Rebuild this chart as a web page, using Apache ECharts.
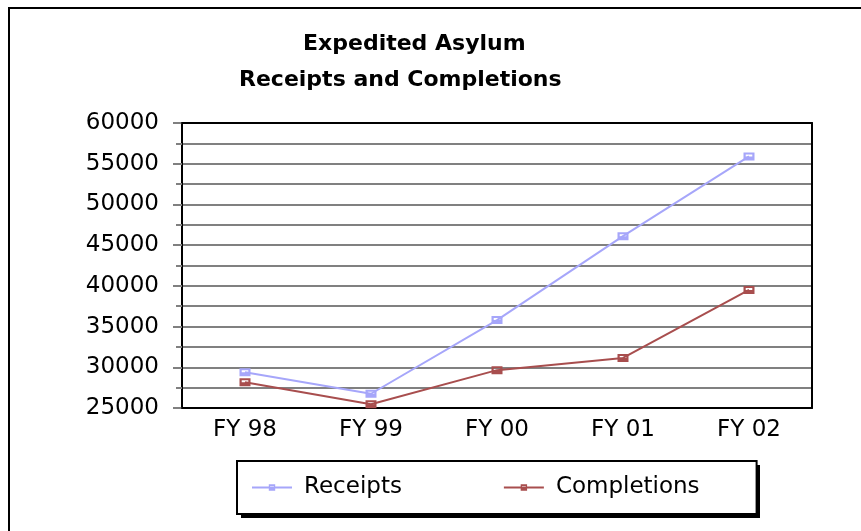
<!DOCTYPE html>
<html>
<head>
<meta charset="utf-8">
<script src="https://cdn.jsdelivr.net/npm/echarts@6/dist/echarts.min.js"></script>
<style>
html,body{margin:0;padding:0;background:#fff;}
#chart{width:861px;height:531px;}
</style>
</head>
<body>
<div id="chart"></div>
<script>
// ---- data ----
var categories = ['FY 98', 'FY 99', 'FY 00', 'FY 01', 'FY 02'];
var receipts = [29400, 26750, 35800, 46100, 55900];
var completions = [28150, 25450, 29650, 31150, 39500];
var seriesNames = ['Receipts', 'Completions'];
var titleLines = ['Expedited Asylum', 'Receipts and Completions'];
var yMin = 25000, yMax = 60000, yStep = 5000;

var FONT = 'DejaVu Sans';
var markerPath = 'path://M0,0 L10,0 L10,8 L0,8 Z M2,2 L2,4 L8,4 L8,2 Z';

var chart = echarts.init(document.getElementById('chart'));
chart.setOption({
  animation: false,
  backgroundColor: '#fff',
  title: [
    { text: titleLines[0], left: 303, top: 33, padding: 0,
      textStyle: { fontFamily: FONT, fontWeight: 'bold', fontSize: 22, color: '#000' } },
    { text: titleLines[1], left: 239, top: 69, padding: 0,
      textStyle: { fontFamily: FONT, fontWeight: 'bold', fontSize: 22, color: '#000' } }
  ],
  graphic: [
    { type: 'rect', silent: true, z: -1,
      shape: { x: 9, y: 8, width: 900, height: 600 },
      style: { fill: 'none', stroke: '#000', lineWidth: 2 } },
    // legend drop shadow
    { type: 'rect', silent: true, z: 3,
      shape: { x: 241, y: 465, width: 519, height: 53 },
      style: { fill: '#000' } }
  ],
  legend: {
    data: seriesNames,
    left: 237, top: 461, z: 4,
    padding: [15, 57, 15, 14],
    itemGap: 101, itemWidth: 40, itemHeight: 8,
    selectedMode: false,
    backgroundColor: '#fff', borderColor: '#000', borderWidth: 2,
    textStyle: { fontFamily: FONT, fontSize: 23, color: '#000', padding: [0, 0, 0, 7] }
  },
  grid: { left: 182, right: 49, top: 123, bottom: 123 },
  xAxis: [
    { type: 'category', data: categories, position: 'bottom', boundaryGap: true, z: 3,
      axisLine: { lineStyle: { color: '#000', width: 2 } },
      axisTick: { alignWithLabel: true, length: 7, lineStyle: { color: '#808080', width: 2 } },
      axisLabel: { fontFamily: FONT, fontSize: 23, color: '#000', margin: 11 },
      splitLine: { show: false } },
    { type: 'category', data: categories, position: 'top', z: 3,
      axisLine: { show: true, lineStyle: { color: '#000', width: 2 } },
      axisTick: { show: false }, axisLabel: { show: false }, splitLine: { show: false } }
  ],
  yAxis: [
    { type: 'value', min: yMin, max: yMax, interval: yStep, position: 'left',
      axisLine: { show: true, lineStyle: { color: '#000', width: 2 } },
      axisTick: { show: true, length: 9, lineStyle: { color: '#808080', width: 2 } },
      minorTick: { show: true, splitNumber: 2, length: 6, lineStyle: { color: '#808080', width: 2 } },
      axisLabel: { fontFamily: FONT, fontSize: 23, color: '#000', margin: 23,
                   formatter: function (v) { return String(v); } },
      splitLine: { show: true, lineStyle: { color: '#808080', width: 2 } },
      minorSplitLine: { show: true, lineStyle: { color: '#808080', width: 2 } } },
    { type: 'value', min: yMin, max: yMax, interval: yStep, position: 'right', z: 3,
      axisLine: { show: true, lineStyle: { color: '#000', width: 2 } },
      axisTick: { show: false }, axisLabel: { show: false }, splitLine: { show: false } }
  ],
  series: [
    { name: seriesNames[0], type: 'line', data: receipts, z: 5,
      symbol: markerPath, symbolSize: [11, 8], showAllSymbol: true,
      lineStyle: { color: '#a6a6fa', width: 2 },
      itemStyle: { color: '#a6a6fa' } },
    { name: seriesNames[1], type: 'line', data: completions, z: 5,
      symbol: markerPath, symbolSize: [11, 8], showAllSymbol: true,
      lineStyle: { color: '#a84e4e', width: 2 },
      itemStyle: { color: '#a84e4e' } }
  ]
});
</script>
</body>
</html>
